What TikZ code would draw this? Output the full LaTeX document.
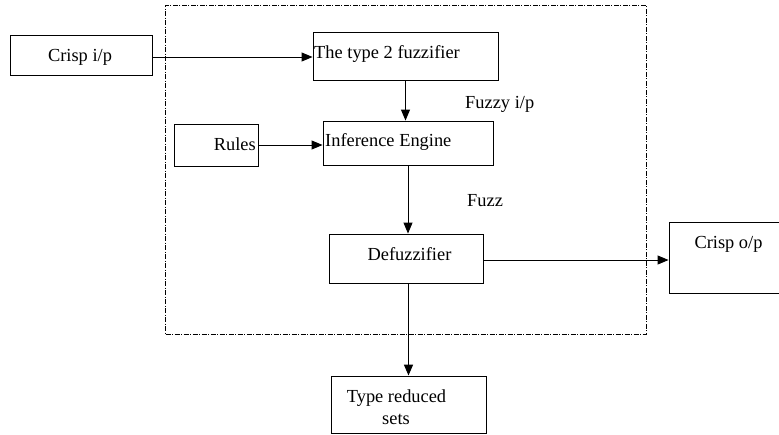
\documentclass[tikz,border=0pt]{standalone}
\usepackage{fontspec}
\setmainfont{Liberation Serif}
\usetikzlibrary{arrows.meta}
\begin{document}
\begin{tikzpicture}[x=1pt,y=-1pt,
  box/.style={draw, line width=0.9pt, inner sep=0pt, rectangle},
  lbl/.style={inner sep=0pt, font=\fontsize{18.4}{22}\selectfont},
  arr/.style={line width=1pt, -{Triangle[length=11pt,width=9pt]}},
  framebox/.style={draw, line width=0.8pt, dash pattern=on 5pt off 1.5pt on 1pt off 1.5pt, inner sep=0pt, rectangle}]
\clip (0,0) rectangle (779,434);
\fill[white] (0,0) rectangle (779,434);
% dash-dot frame
\node[framebox, minimum width=480.5pt, minimum height=329pt] (frame) at (405.75,169.5) {};
% boxes
\node[box, minimum width=142pt, minimum height=40pt] (cin) at (81,55) {};
\node[box, minimum width=185pt, minimum height=48pt] (fuz) at (405.5,56) {};
\node[box, minimum width=84pt, minimum height=42pt] (rules) at (216,145) {};
\node[box, minimum width=170pt, minimum height=44pt] (inf) at (408,143) {};
\node[box, minimum width=154pt, minimum height=49pt] (def) at (406,258.5) {};
\node[box, minimum width=130pt, minimum height=71pt] (cout) at (734,257.5) {};
\node[box, minimum width=155pt, minimum height=57pt] (trs) at (408.5,404.5) {};
% texts
\node[lbl, anchor=base] (cint) at (80,61) {Crisp i/p};
\node[lbl, anchor=base west] (fuzt) at (314,58) {The type 2 fuzzifier};
\node[lbl, anchor=base east] (rulest) at (256,150) {Rules};
\node[lbl, anchor=base west] (inft) at (325,146) {Inference Engine};
\node[lbl, anchor=base] (deft) at (409.5,260) {Defuzzifier};
\node[lbl, anchor=base] (coutt) at (728.5,248) {Crisp o/p};
\node[lbl, anchor=base] (trst1) at (396.5,402) {Type reduced};
\node[lbl, anchor=base] (trst2) at (396,424) {sets};
\node[lbl, anchor=base west] (fuzzyip) at (465,108) {Fuzzy i/p};
\node[lbl, anchor=base west] (fuzzl) at (467,206) {Fuzz};
% connectors
\draw[arr] ([yshift=-2pt]cin.east) -- ([yshift=-2pt]cin.east -| fuz.west);
\draw[arr] (fuz.south) -- (fuz.south |- inf.north);
\draw[arr] (rules.east) -- (rules.east -| inf.west);
\draw[arr] (inf.south) -- (inf.south |- def.north);
\draw[arr] ([yshift=-1.5pt]def.east) -- ([yshift=-1.5pt]def.east -| cout.west);
\draw[arr, line width=1.6pt] (def.south -| trs.north) -- (trs.north);
\end{tikzpicture}
\end{document}
